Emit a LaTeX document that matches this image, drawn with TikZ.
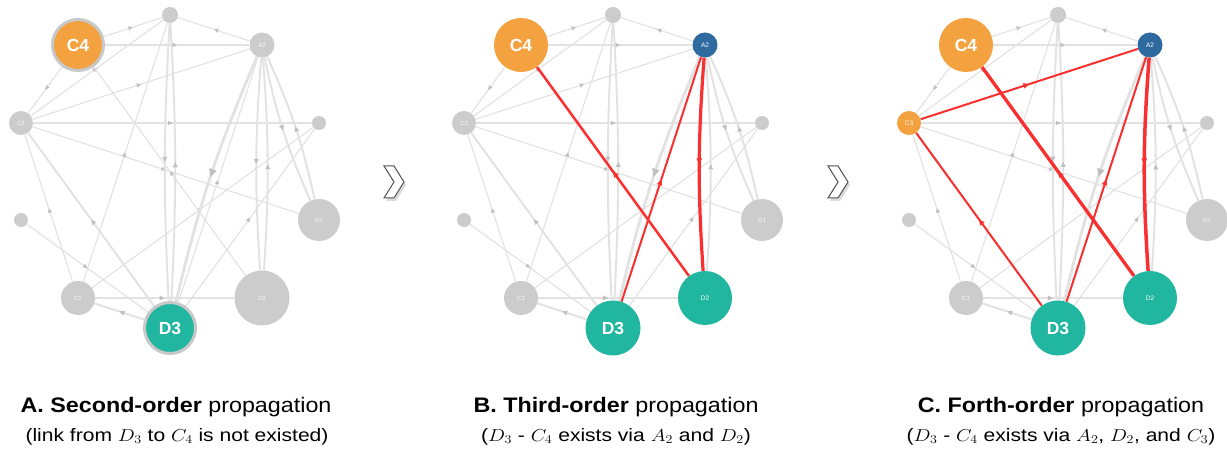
\documentclass[tikz,border=0pt]{standalone}
\usepackage{fontspec}
\setmainfont{Liberation Sans}
\usetikzlibrary{arrows.meta,decorations.markings}
\definecolor{ngray}{RGB}{204,204,204}
\definecolor{egray}{RGB}{226,226,226}
\definecolor{agray}{RGB}{192,192,192}
\definecolor{corange}{RGB}{244,161,64}
\definecolor{cteal}{RGB}{32,182,160}
\definecolor{cblue}{RGB}{46,106,160}
\definecolor{cred}{RGB}{250,48,48}
\definecolor{ringgray}{RGB}{200,200,200}
\definecolor{chevline}{RGB}{80,80,80}
\pgfdeclarelayer{bg}
\pgfdeclarelayer{edges}
\pgfsetlayers{bg,edges,main}
\tikzset{
  gn/.style={circle,fill=ngray,inner sep=0pt,text=white!90!ngray,font=\fontsize{6}{6}\selectfont},
  bignode/.style={circle,inner sep=0pt,text=white,font=\bfseries\fontsize{17.5}{17.5}\selectfont},
  smallnode/.style={circle,inner sep=0pt,text=white,font=\fontsize{6.5}{6.5}\selectfont},
  midarrow/.style 2 args={postaction={decorate},decoration={markings,mark=at position 0.5 with {\arrow{Triangle[length=4.5pt,width=4pt,scale=#2,color=#1]}}}},
  e/.style={draw=egray,line width=1.1pt,midarrow={agray}{1}},
  ew/.style={draw=egray,line width=1.9pt,midarrow={agray}{1.15}},
  ewt/.style={draw=egray,line width=2.8pt,midarrow={agray}{1.8}},
  er/.style={draw=cred,midarrow={cred}{1.3}},
  title/.style={anchor=base,xscale=1.11,transform shape,font=\fontsize{21}{21}\selectfont},
  subtitle/.style={anchor=base,xscale=1.17,transform shape,font=\fontsize{18}{18}\selectfont},
}
% #1 prefix, #2 x centre, #3 C4, #4 A2, #5 C3, #6 D2, #7 D3 styles
\newcommand{\gnodes}[7]{%
\begin{scope}[xshift=#2pt]
\node[gn,minimum size=16pt] (#1T) at (0,15) {};
\node[#3] (#1C4) at (-92,45) {C4};
\node[#4] (#1A2) at (92,45) {A2};
\node[#5] (#1C3) at (-149,123) {C3};
\node[gn,minimum size=14pt] (#1R) at (149,123) {};
\node[gn,minimum size=14pt] (#1L) at (-149,220) {};
\node[gn,minimum size=42pt] (#1D1) at (149,220) {D1};
\node[gn,minimum size=34pt] (#1C1) at (-92,298) {C1};
\node[#6] (#1D2) at (92,298) {D2};
\node[#7] (#1D3) at (0,328) {D3};
\end{scope}}
\newcommand{\gedges}[1]{%
\begin{pgfonlayer}{edges}
\draw[e] (#1C4) -- (#1T);
\draw[e] (#1A2) -- (#1T);
\draw[e] (#1C3) -- (#1T);
\draw[e] (#1C4) -- (#1C3);
\draw[e] (#1C3) -- (#1R);
\draw[e] (#1C3) -- (#1D1);
\draw[e] (#1C1) -- (#1C3);
\draw[e] (#1D2) -- (#1C4);
\draw[e] (#1C1) -- (#1T);
\draw[e] (#1C1) -- (#1R);
\draw[e] (#1D3) -- (#1R);
\draw[e] (#1L) -- (#1D3);
\draw[e] (#1C3) -- (#1A2);
\draw[e] (#1D3) -- (#1A2);
\draw[ew] (#1C4) -- (#1A2);
\draw[ew] (#1D3) -- (#1C3);
\draw[ew] (#1D3) -- (#1C1);
\draw[ew] (#1C1) -- (#1D2);
\draw[ew] (#1T) to[bend right=3] (#1D3);
\draw[ew] (#1D3) to[bend right=3] (#1T);
\draw[ew] (#1A2) to[bend right=4] (#1D2);
\draw[ew] (#1D2) to[bend right=4] (#1A2);
\draw[ew] (#1A2) to[bend right=6] (#1D1);
\draw[ew] (#1D1) to[bend right=6] (#1A2);
\draw[ewt] (#1A2) to[bend right=5] (#1D3);
\end{pgfonlayer}}
\newcommand{\chevron}[1]{%
\begin{scope}[xshift=#1pt]
\fill[black!14] (386,169) -- (396,169) -- (406,185) -- (396,201) -- (386,201) -- (396,185) -- cycle;
\draw[chevline,line width=1pt,fill=white,line join=miter] (384,166) -- (394,166) -- (404,182) -- (394,198) -- (384,198) -- (394,182) -- cycle;
\end{scope}}
\begin{document}
\begin{tikzpicture}[x=1pt,y=-1pt]
\begin{pgfonlayer}{bg}
\fill[white] (0,0) rectangle (1227,454);
\end{pgfonlayer}
\useasboundingbox (0,0) rectangle (1227,454);
% Panel A
\gnodes{a}{170}
  {bignode,fill=corange,draw=ringgray,line width=3pt,minimum size=51pt}
  {gn,minimum size=25pt}
  {gn,minimum size=24pt}
  {gn,minimum size=55pt}
  {bignode,fill=cteal,draw=ringgray,line width=3pt,minimum size=51pt}
\gedges{a}
% Panel B
\gnodes{b}{613}
  {bignode,fill=corange,minimum size=54pt}
  {smallnode,fill=cblue,minimum size=25pt}
  {gn,minimum size=24pt}
  {smallnode,fill=cteal,minimum size=54pt}
  {bignode,fill=cteal,minimum size=55pt}
\gedges{b}
\begin{pgfonlayer}{edges}
\draw[er,line width=2.5pt] (bD2) -- (bC4);
\draw[er,line width=2pt] (bD3) -- (bA2);
\draw[er,line width=3.2pt] (bA2) to[bend right=4] (bD2);
\end{pgfonlayer}
% Panel C
\gnodes{c}{1058}
  {bignode,fill=corange,minimum size=54pt}
  {smallnode,fill=cblue,minimum size=25pt}
  {smallnode,fill=corange,minimum size=24pt}
  {smallnode,fill=cteal,minimum size=54pt}
  {bignode,fill=cteal,minimum size=55pt}
\gedges{c}
\begin{pgfonlayer}{edges}
\draw[er,line width=3.3pt] (cD2) -- (cC4);
\draw[er,line width=2pt] (cC3) -- (cA2);
\draw[er,line width=2pt] (cD3) -- (cC3);
\draw[er,line width=2pt] (cD3) -- (cA2);
\draw[er,line width=3.5pt] (cA2) to[bend right=4] (cD2);
\end{pgfonlayer}
% separators
\chevron{0}
\chevron{444}
% captions
\node[title] (tA) at (176,413) {\textbf{A. Second-order} propagation};
\node[subtitle] (sA) at (177,441) {(link from $D_3$ to $C_4$ is not existed)};
\node[title] (tB) at (616,413) {\textbf{B. Third-order} propagation};
\node[subtitle] (sB) at (616,441) {($D_3$ - $C_4$ exists via $A_2$ and $D_2$)};
\node[title] (tC) at (1061,413) {\textbf{C. Forth-order} propagation};
\node[subtitle] (sC) at (1061,441) {($D_3$ - $C_4$ exists via $A_2$, $D_2$, and $C_3$)};
\end{tikzpicture}
\end{document}
